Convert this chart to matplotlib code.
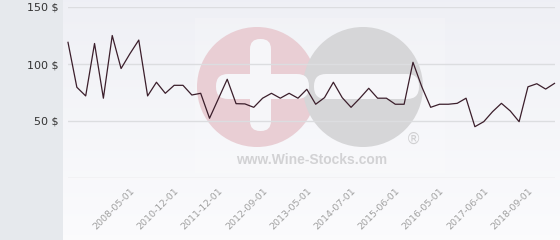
import matplotlib
matplotlib.use("Agg")
import matplotlib.pyplot as plt
import numpy as np
from matplotlib.patches import Circle, FancyBboxPatch, Rectangle

prices = [119, 79.6, 72, 118, 70, 125, 96, 109, 121, 72,
          84, 74.3, 81.3, 81.3, 72.8, 74.3, 52.4, 69.5, 86.6, 65.2,
          65, 62, 70, 74.3, 70, 74.3, 70, 77.8, 64.7, 70.5,
          84, 70.5, 62, 70, 78.7, 70, 70, 64.7, 64.7, 101.5,
          80, 62, 64.7, 64.7, 65.5, 70, 45, 49.4, 58.2, 65.5,
          58.8, 49.4, 80, 82.7, 78, 83]
tick_labels = ["2008-05-01", "2010-12-01", "2011-12-01", "2012-09-01", "2013-05-01",
               "2014-07-01", "2015-06-01", "2016-05-01", "2017-06-01", "2018-09-01"]
y_ticks = [50, 100, 150]
y_tick_labels = ["50 $", "100 $", "150 $"]

W, H = 560, 240
fig = plt.figure(figsize=(W / 100, H / 100), dpi=100)

# background + watermark in pixel coordinates
bg = fig.add_axes([0, 0, 1, 1], zorder=0)
bg.set_xlim(0, W)
bg.set_ylim(H, 0)
bg.axis("off")
grad = np.linspace(0, 1, 100).reshape(-1, 1)
top = np.array([0.937, 0.941, 0.961])
bot = np.array([0.985, 0.985, 0.992])
img = top + (bot - top) * grad[:, :, None] * np.ones((1, 1, 1))
img = np.repeat(img, 2, axis=1)
bg.imshow(img, extent=[63, W, H, 0], aspect="auto", zorder=0)
bg.add_patch(Rectangle((0, 0), 63, H, color="#e6e9ed", zorder=1, lw=0))
bg.add_patch(Rectangle((195, 18), 250, 155, color="white", alpha=0.2, zorder=1, lw=0))
bg.add_patch(Circle((257, 87), 60, color="#e9ced4", zorder=2, lw=0))
bg.add_patch(Circle((363, 87), 60, color="#d6d6d8", zorder=3, lw=0))
bg.add_patch(FancyBboxPatch((250, 39), 21, 92, boxstyle="round,pad=0,rounding_size=10",
                            color="#f6f6f9", zorder=4, lw=0))
bg.add_patch(FancyBboxPatch((216, 74), 93, 25, boxstyle="round,pad=0,rounding_size=12",
                            color="#f6f6f9", zorder=4, lw=0))
bg.add_patch(FancyBboxPatch((314, 74), 105, 25, boxstyle="round,pad=0,rounding_size=12",
                            color="#f6f6f9", zorder=4, lw=0))
bg.text(312, 160, "www.Wine-Stocks.com", ha="center", va="center", fontsize=10,
        fontweight="bold", family="Liberation Sans", color="#d2d2d4", zorder=5)
bg.text(413, 139, "®", ha="center", va="center", fontsize=11,
        family="DejaVu Sans", color="#d0d0d2", zorder=5)

# main axes
x0, x1, y0, y1 = 68, 554.5, 7, 178
ax = fig.add_axes([x0 / W, 1 - y1 / H, (x1 - x0) / W, (y1 - y0) / H], zorder=1)
ax.patch.set_alpha(0)
x = np.arange(len(prices))
ax.plot(x, prices, color="#3b1e2b", lw=0.9, clip_on=False, zorder=3)
ax.set_xlim(0, len(prices) - 1)
ax.set_ylim(0, 150)
for s in ax.spines.values():
    s.set_visible(False)
for v in [0] + y_ticks:
    ax.axhline(v, color="#dcdde0", lw=1, zorder=1)
ax.set_yticks(y_ticks)
ax.set_yticklabels(y_tick_labels, fontsize=8, color="#333333")
ax.tick_params(axis="y", length=0, pad=7)
ax.set_xticks(range(7, len(prices), 5))
ax.set_xticklabels(tick_labels, rotation=45, ha="right", va="top",
                   rotation_mode="anchor", fontsize=6.8, color="#a0a0a0")
ax.tick_params(axis="x", length=0, pad=6)

fig.savefig("out.png", dpi=100)
